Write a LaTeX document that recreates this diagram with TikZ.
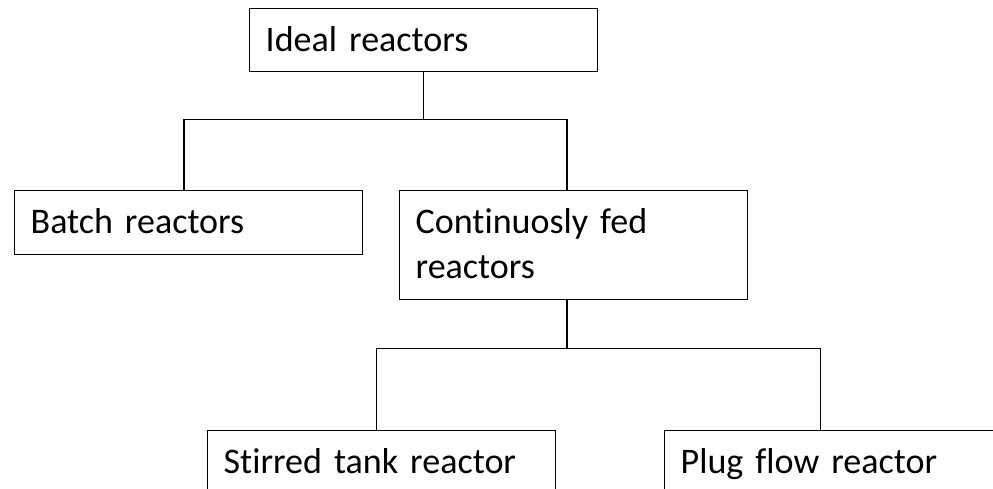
\documentclass[tikz,border=0pt]{standalone}
\usepackage{fontspec}
\setmainfont{Carlito}[Ligatures={NoCommon}]
\usetikzlibrary{positioning}

\begin{document}
\begin{tikzpicture}[x=0.02cm,y=-0.02cm,
  box/.style={draw,line width=0.8pt,anchor=north west,align=left,
    inner xsep=0.32cm,inner ysep=0pt,text width=6.32cm,text height=0.86cm,
    font=\fontsize{20.5}{25.6}\selectfont},
  wire/.style={line width=0.8pt}]
\useasboundingbox (0,0) rectangle (993,489);
\clip (0,0) rectangle (993,489);
\node[box,text depth=0.4cm] (ideal) at (249,8) {Ideal reactors};
\node[box,text depth=0.42cm] (batch) at (14,190) {Batch reactors};
\node[box,text depth=1.32cm] (cont) at (399,190) {Continuosly fed\\reactors};
\node[box,text depth=1.5cm] (stirred) at (207,430) {Stirred tank reactor};
\node[box,text depth=1.5cm] (plug) at (664,430) {Plug flow reactor};
\draw[wire] (ideal.south) -- ++(0,47) coordinate (fork1);
\draw[wire] ([xshift=-2.6pt]batch.north) |- (fork1) -| ([xshift=-3.7pt]cont.north);
\draw[wire] ([xshift=-3.7pt]cont.south) -- ++(0,48) coordinate (fork2);
\draw[wire] ([xshift=-2.8pt]stirred.north) |- (fork2) -| ([xshift=-10.2pt]plug.north);
\end{tikzpicture}
\end{document}
